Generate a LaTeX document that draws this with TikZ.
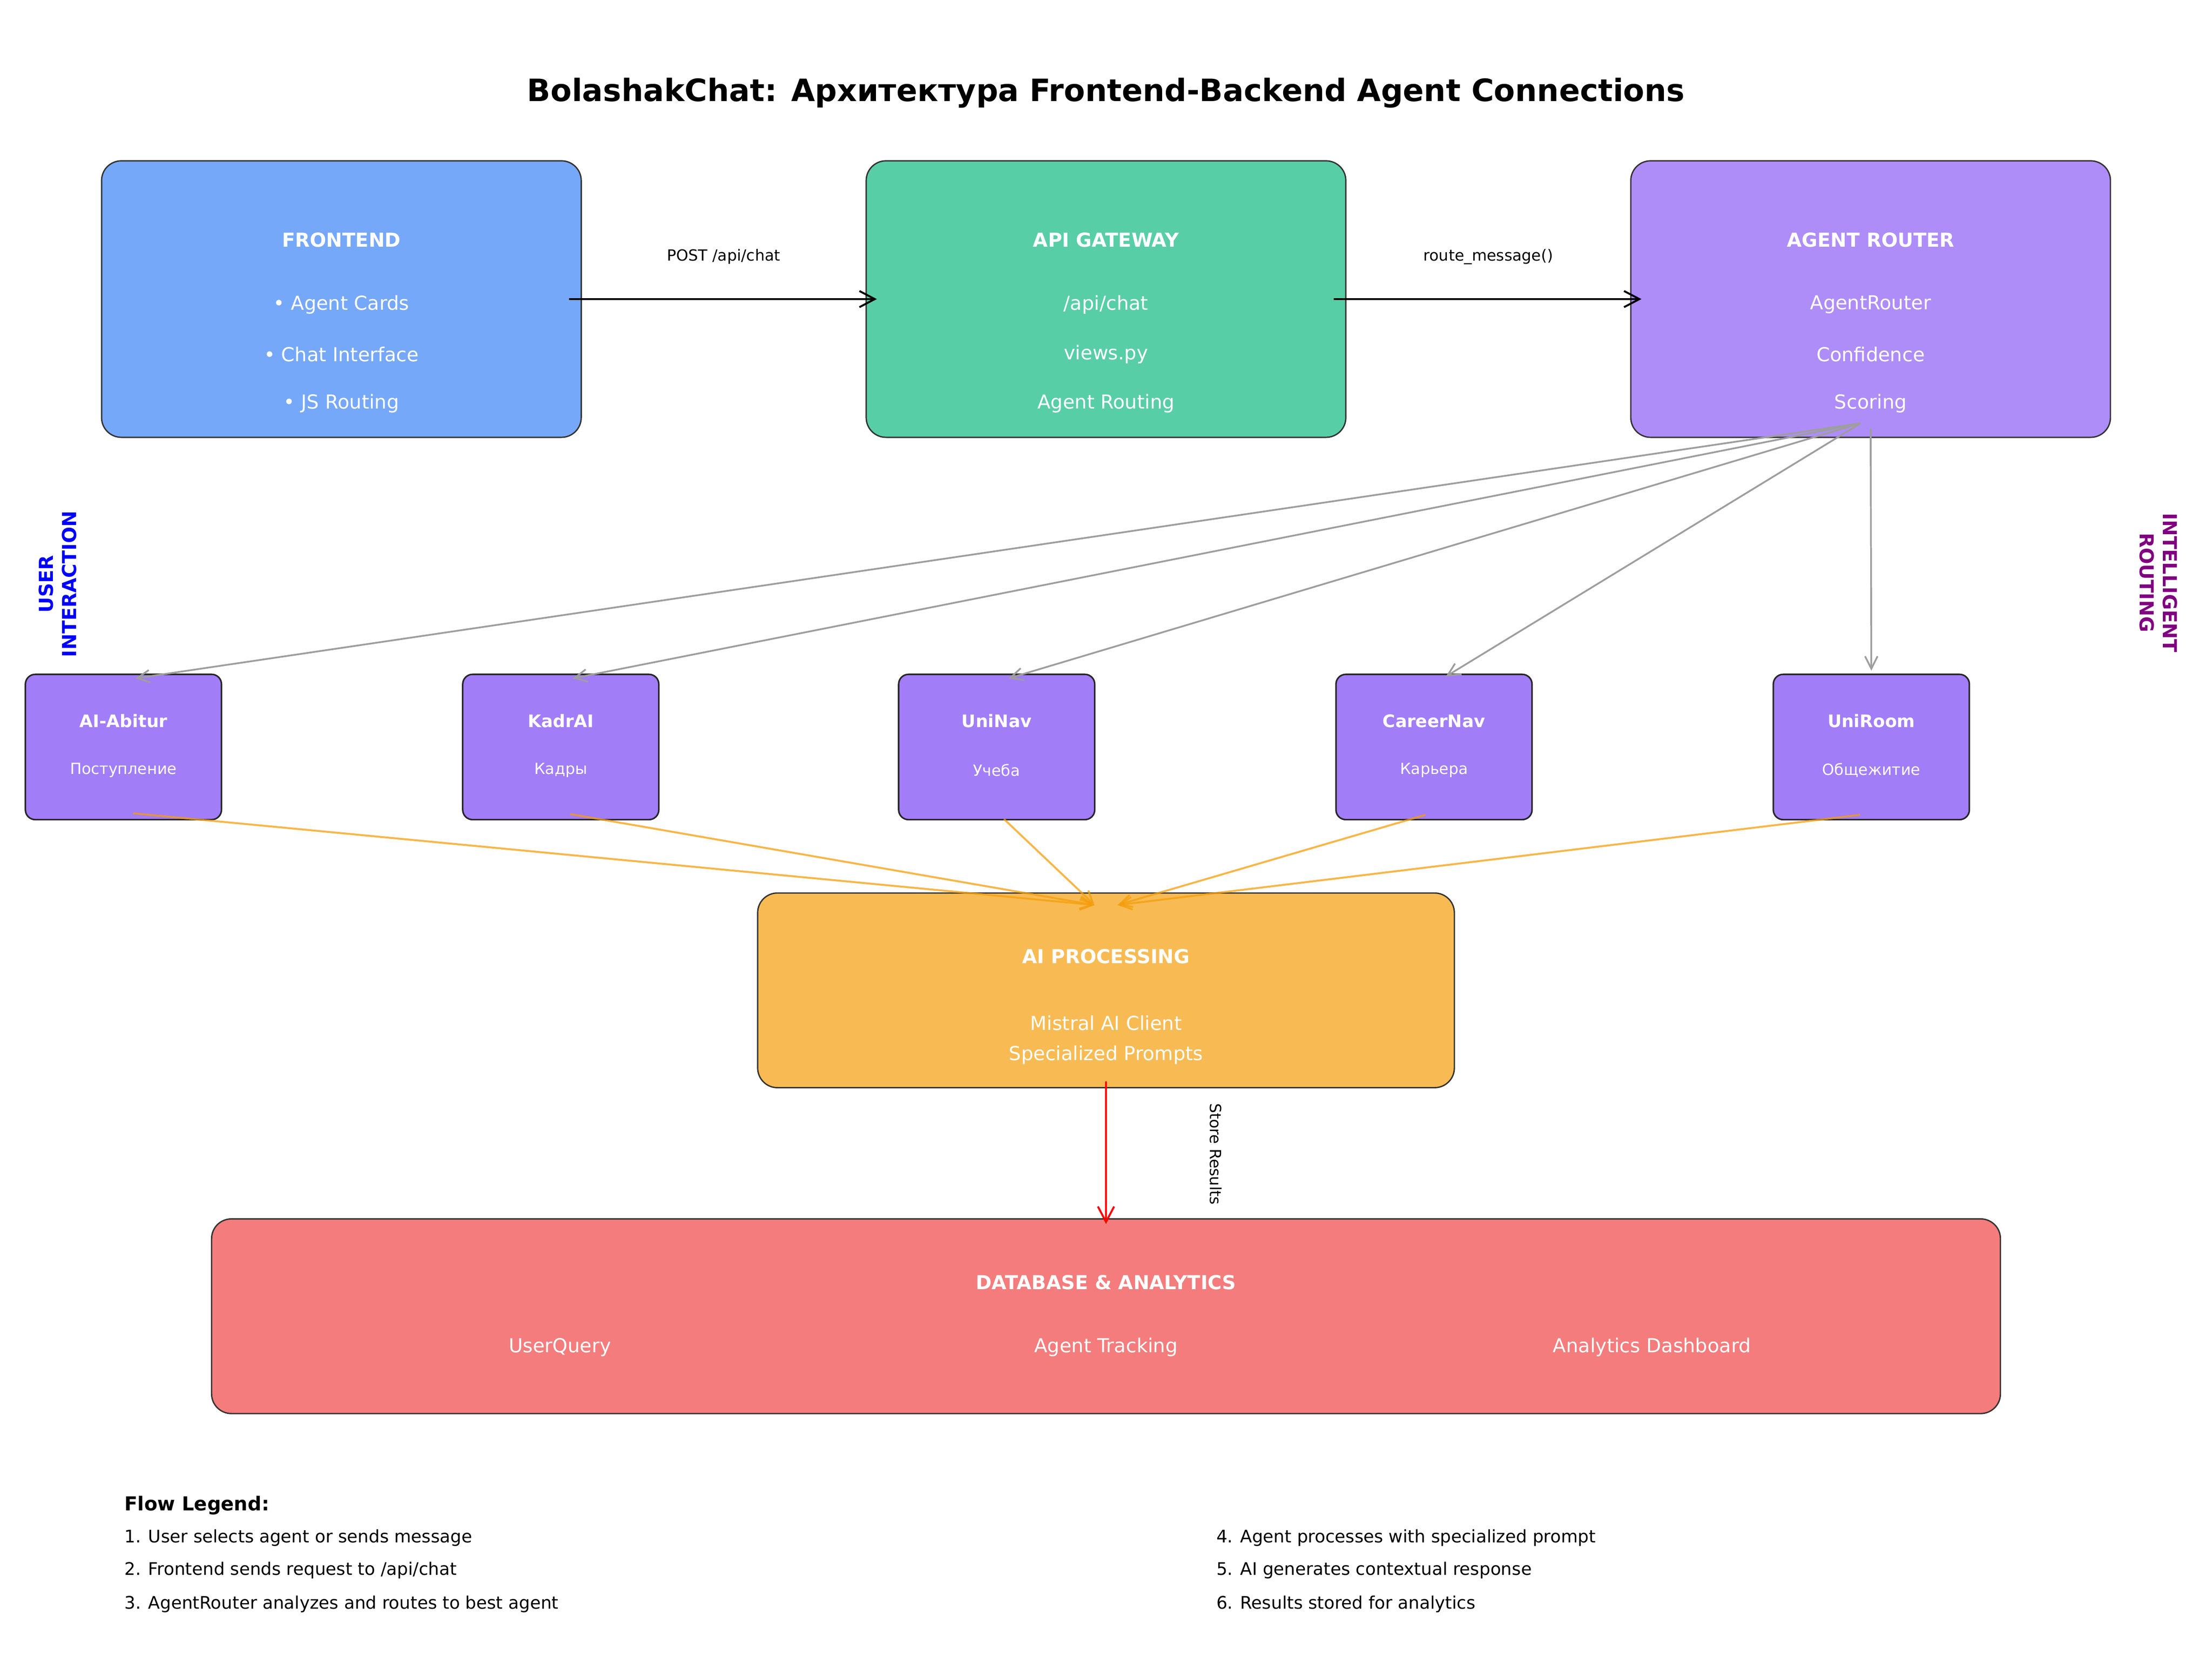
\documentclass[tikz,border=0pt]{standalone}
\usepackage{fontspec}
\setmainfont{DejaVu Sans}
\usetikzlibrary{arrows.meta}
\definecolor{feblue}{HTML}{76A8F9}
\definecolor{gwgreen}{HTML}{58CEA7}
\definecolor{rtpurple}{HTML}{AE8DF9}
\definecolor{agpurple}{HTML}{A27DF8}
\definecolor{aiorange}{HTML}{F8BB54}
\definecolor{dbred}{HTML}{F47C7C}
\definecolor{arrgray}{HTML}{9E9E9E}
\definecolor{feedorange}{HTML}{F59E0B}
\definecolor{sidepurple}{HTML}{800080}
\begin{document}
\begin{tikzpicture}[x=0.025756cm,y=-0.025756cm,
  box/.style={draw=black!80,line width=0.7pt,rounded corners=0.36cm,minimum width=8.757cm,minimum height=5.048cm,inner sep=0pt},
  agentbox/.style={draw=black!85,line width=0.8pt,fill=agpurple,rounded corners=0.18cm,minimum width=3.58cm,minimum height=2.653cm,inner sep=0pt},
  head/.style={text=white,font=\bfseries\fontsize{10}{12}\selectfont},
  item/.style={text=white,font=\fontsize{10}{12}\selectfont},
  aname/.style={text=white,font=\bfseries\fontsize{9}{11}\selectfont},
  asub/.style={text=white,font=\fontsize{8}{10}\selectfont},
  lbl/.style={font=\fontsize{8}{10}\selectfont},
  legend/.style={anchor=west,inner sep=0pt,font=\fontsize{9}{11}\selectfont},
  flow/.style={-{Straight Barb[length=8pt,width=8.4pt]},line width=1pt},
  route/.style={-{Straight Barb[length=6.5pt,width=6.5pt]},line width=0.9pt,draw=arrgray},
  feed/.style={-{Straight Barb[length=6.5pt,width=6.5pt]},line width=1pt,draw=feedorange,draw opacity=0.75}]
\useasboundingbox (0,0) rectangle (1568,1173.6);
\node[font=\bfseries\fontsize{16}{19}\selectfont] (title) at (784,66) {BolashakChat: Архитектура Frontend-Backend Agent Connections};

\node[box,fill=feblue] (fe) at (242,212) {};
\node[head] (feH) at (242,170) {FRONTEND};
\node[item] (fe1) at (242,216) {• Agent Cards};
\node[item] (fe2) at (242,251) {• Chat Interface};
\node[item] (fe3) at (242,286) {• JS Routing};

\node[box,fill=gwgreen] (api) at (784,212) {};
\node[head] (apiH) at (784,170) {API GATEWAY};
\node[item] (api1) at (784,216) {/api/chat};
\node[item] (api2) at (784,251) {views.py};
\node[item] (api3) at (784,286) {Agent Routing};

\node[box,fill=rtpurple] (router) at (1326,212) {};
\node[head] (routerH) at (1326,170) {AGENT ROUTER};
\node[item] (router1) at (1326,216) {AgentRouter};
\node[item] (router2) at (1326,251) {Confidence};
\node[item] (router3) at (1326,286) {Scoring};

\draw[flow] ([xshift=-6.6pt]fe.east) -- ([xshift=5.9pt]api.west);
\node[lbl] (postlbl) at (513,182) {POST /api/chat};
\draw[flow] ([xshift=-6.6pt]api.east) -- ([xshift=5.9pt]router.west);
\node[lbl] (routelbl) at (1055,182) {route\_message()};

\node[rotate=90,align=center,text=blue,font=\bfseries\fontsize{10}{12}\selectfont] (userlbl) at (41,414) {USER\\INTERACTION};
\node[rotate=-90,align=center,text=sidepurple,font=\bfseries\fontsize{10}{12}\selectfont] (intlbl) at (1530,413) {INTELLIGENT\\ROUTING};

\node[agentbox] (abitur) at (87.5,529.5) {};
\node[aname] at (87.5,511) {AI-Abitur};
\node[asub] at (87.5,546) {Поступление};
\node[agentbox] (kadr) at (397.5,529.5) {};
\node[aname] at (397.5,511) {KadrAI};
\node[asub] at (397.5,546) {Кадры};
\node[agentbox] (uninav) at (706.5,529.5) {};
\node[aname] at (706.5,511) {UniNav};
\node[asub] at (706.5,546) {Учеба};
\node[agentbox] (career) at (1016.5,529.5) {};
\node[aname] at (1016.5,511) {CareerNav};
\node[asub] at (1016.5,546) {Карьера};
\node[agentbox] (uniroom) at (1326.5,529.5) {};
\node[aname] at (1326.5,511) {UniRoom};
\node[asub] at (1326.5,546) {Общежитие};

\coordinate (rtout) at (1319,300);
\draw[route] (rtout) -- ([xshift=6.2pt,yshift=-2.5pt]abitur.north);
\draw[route] (rtout) -- ([xshift=6.2pt,yshift=-2.5pt]kadr.north);
\draw[route] (rtout) -- ([xshift=6.2pt,yshift=-2.5pt]uninav.north);
\draw[route] (rtout) -- ([xshift=6.2pt,yshift=-1.5pt]career.north);
\draw[route] ([yshift=5pt]router.south) -- ([yshift=1.5pt]uniroom.north);

\node[draw=black!80,line width=0.7pt,fill=aiorange,rounded corners=0.36cm,minimum width=12.72cm,minimum height=3.554cm] (ai) at (784,702) {};
\node[head] (aiH) at (784,678) {AI PROCESSING};
\node[item] (ai1) at (784,725) {Mistral AI Client};
\node[item] (ai2) at (784,748) {Specialized Prompts};

\draw[feed] ([xshift=5.1pt,yshift=3.7pt]abitur.south) -- ([xshift=-5.9pt,yshift=-6.6pt]ai.north);
\draw[feed] ([xshift=4.9pt,yshift=3.3pt]kadr.south) -- ([xshift=-5.9pt,yshift=-6.6pt]ai.north);
\draw[feed] ([xshift=3.8pt,yshift=0.7pt]uninav.south) -- ([xshift=-5.9pt,yshift=-6.6pt]ai.north);
\draw[feed] ([xshift=-4.4pt,yshift=2.9pt]career.south) -- ([xshift=5.9pt,yshift=-6.6pt]ai.north);
\draw[feed] ([xshift=-5.9pt,yshift=2.9pt]uniroom.south) -- ([xshift=5.9pt,yshift=-6.6pt]ai.north);

\node[draw=black!80,line width=0.7pt,fill=dbred,rounded corners=0.36cm,minimum width=32.66cm,minimum height=3.554cm] (db) at (784,933) {};
\node[head] (dbH) at (784,909) {DATABASE \& ANALYTICS};
\node[item] (db1) at (397,955) {UserQuery};
\node[item] (db2) at (784,955) {Agent Tracking};
\node[item] (db3) at (1171,955) {Analytics Dashboard};

\draw[flow,draw=red] ([yshift=3.7pt]ai.south) -- ([yshift=-3pt]db.north);
\node[lbl,rotate=-90] (storelbl) at (862,818) {Store Results};

\node[anchor=west,inner sep=0pt,font=\bfseries\fontsize{10}{12}\selectfont] (legH) at (88,1067) {Flow Legend:};
\node[legend] (leg1) at (88,1090) {1. User selects agent or sends message};
\node[legend] (leg2) at (88,1113) {2. Frontend sends request to /api/chat};
\node[legend] (leg3) at (88,1137) {3. AgentRouter analyzes and routes to best agent};
\node[legend] (leg4) at (862,1090) {4. Agent processes with specialized prompt};
\node[legend] (leg5) at (862,1113) {5. AI generates contextual response};
\node[legend] (leg6) at (862,1137) {6. Results stored for analytics};
\end{tikzpicture}
\end{document}
